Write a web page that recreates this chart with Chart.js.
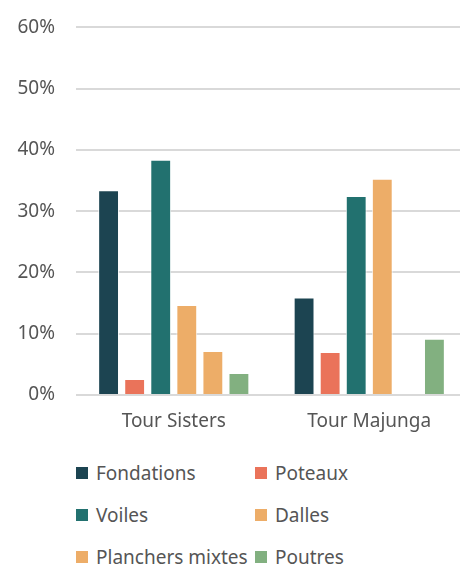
<!DOCTYPE html>
<html>
<head>
<meta charset="utf-8">
<script src="https://cdn.jsdelivr.net/npm/chart.js@4"></script>
<style>
    html, body { margin: 0; padding: 0; background: #fff; overflow: hidden; }
    body { width: 460px; height: 568px; position: relative; font-family: "Noto Sans", sans-serif; }
    #chartBox { position: absolute; left: 0; top: -5px; width: 467px; height: 445px; }
    #legend {
        position: absolute; left: 76px; top: 452px;
        display: grid; grid-template-columns: 179px 180px; grid-auto-rows: 42px;
        font-size: 19px; color: #555555;
    }
    .item { display: flex; align-items: center; white-space: nowrap; }
    .box { width: 12px; height: 12px; margin-right: 8px; flex: none; }
</style>
</head>
<body>
<div id="chartBox"><canvas id="chart"></canvas></div>
<div id="legend"></div>
<script>
const categories = ["Tour Sisters", "Tour Majunga"];
const seriesNames = ["Fondations", "Poteaux", "Voiles", "Dalles", "Planchers mixtes", "Poutres"];
const fondations = [33.4, 15.9];
const poteaux = [2.6, 7.0];
const voiles = [38.4, 32.5];
const dalles = [14.7, 35.3];
const planchersMixtes = [7.2, null];
const poutres = [3.6, 9.2];
const yTicks = [0, 10, 20, 30, 40, 50, 60];

const colors = ["#1c4451", "#ea735a", "#22716f", "#edad68", "#edad68", "#82b080"];
const allValues = [fondations, poteaux, voiles, dalles, planchersMixtes, poutres];

document.addEventListener("DOMContentLoaded", () => {
    const ctx = document.getElementById("chart").getContext("2d");
    const textColor = "#555555";

    const chart = new Chart(ctx, {
        type: "bar",
        data: {
            labels: categories,
            datasets: seriesNames.map((name, i) => ({
                label: name,
                data: allValues[i],
                backgroundColor: colors[i],
                borderColor: "rgba(255,255,255,0.8)",
                borderWidth: 1,
                categoryPercentage: 0.8,
                barPercentage: 0.8
            }))
        },
        options: {
            responsive: true,
            maintainAspectRatio: false,
            animation: false,
            layout: { padding: { top: 12, left: 0, right: 0, bottom: 0 } },
            plugins: {
                legend: { display: false },
                tooltip: { enabled: false }
            },
            scales: {
                x: {
                    grid: { display: false, drawTicks: false },
                    border: { display: false },
                    ticks: { color: textColor, font: { family: "Noto Sans", size: 19 }, padding: 15 },
                    afterFit: (scale) => { scale.height = 45; }
                },
                y: {
                    min: 0,
                    max: 60,
                    afterBuildTicks: (scale) => { scale.ticks = yTicks.map(v => ({ value: v })); },
                    grid: { color: "#d9d9d9", lineWidth: 2, drawTicks: false },
                    border: { display: false },
                    ticks: {
                        color: textColor,
                        font: { family: "Noto Sans", size: 19 },
                        padding: 21,
                        callback: (v) => v + "%"
                    },
                    afterFit: (scale) => { scale.width = 76; }
                }
            }
        }
    });

    const legend = document.getElementById("legend");
    chart.data.datasets.forEach((ds) => {
        const item = document.createElement("div");
        item.className = "item";
        const box = document.createElement("span");
        box.className = "box";
        box.style.background = ds.backgroundColor;
        const label = document.createElement("span");
        label.textContent = ds.label;
        item.appendChild(box);
        item.appendChild(label);
        legend.appendChild(item);
    });
});
</script>
</body>
</html>
